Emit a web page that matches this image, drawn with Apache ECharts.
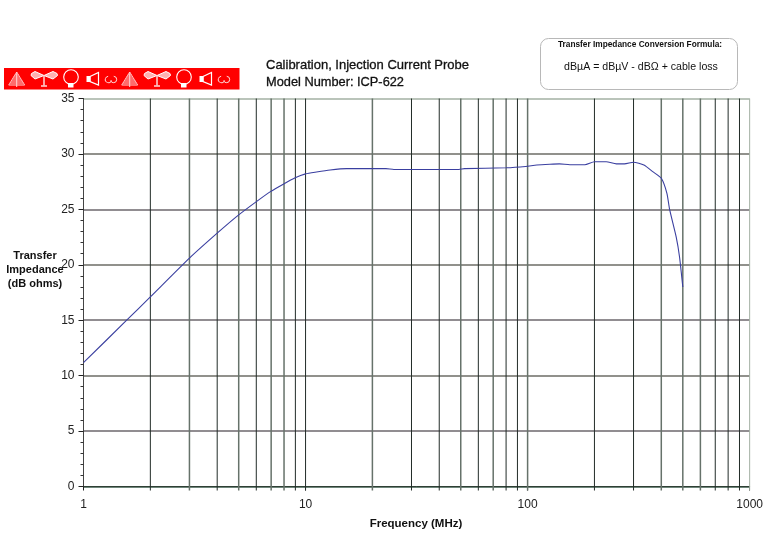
<!DOCTYPE html>
<html>
<head>
<meta charset="utf-8">
<style>html,body{margin:0;padding:0;background:#fff}#chart{width:766px;height:538px}</style>
<script src="https://cdn.jsdelivr.net/npm/echarts@6/dist/echarts.min.js"></script>
</head>
<body>
<div id="chart"></div>
<script>
var freqs = [1, 1.565, 2, 3, 4, 5, 6.2, 6.95, 7.9, 8.98, 10, 11.2, 12.9, 15.3, 23, 25, 49, 52, 80, 98, 110, 126, 139, 155, 181, 200, 226, 251, 273, 300, 334, 366, 400, 424, 436, 467, 483, 500];
var impedance = [11.17, 15, 17.1, 20.6, 22.85, 24.5, 25.9, 26.6, 27.25, 27.85, 28.2, 28.37, 28.55, 28.67, 28.67, 28.6, 28.6, 28.67, 28.75, 28.87, 29.0, 29.07, 29.1, 29.03, 29.03, 29.3, 29.3, 29.1, 29.1, 29.25, 29.0, 28.4, 27.8, 26.45, 25.0, 22.5, 20.75, 18.0];
var darkGrid = [2, 4, 6, 9, 10, 30, 40, 60, 80, 90, 200, 300, 700, 800, 900];
var softGrid = [3, 5, 7, 8, 20, 50, 70, 100, 400, 500, 600];
var edgeGrid = [1000];

var myChart = echarts.init(document.getElementById('chart'));

var font = '"Liberation Sans", Arial, sans-serif';

function makeGridSeries(list, color, width) {
    return {
        type: 'custom',
        silent: true,
        z: 1,
        clip: false,
        data: list.map(function (f) { return [f]; }),
        encode: {x: 0},
        renderItem: function (params, api) {
            var top = api.coord([api.value(0), 35]);
            var bottom = api.coord([api.value(0), 0]);
            return {
                type: 'line',
                shape: {x1: top[0], y1: top[1], x2: bottom[0], y2: bottom[1] + 4},
                style: {stroke: color, lineWidth: width}
            };
        }
    };
}

function line(x1, y1, x2, y2, w) {
    return {type: 'line', shape: {x1: x1, y1: y1, x2: x2, y2: y2}, style: {stroke: '#ffd8d8', lineWidth: w || 1}};
}

function bannerIcons(dx) {
    var items = [];
    // tree antenna
    for (var y = 75; y <= 85; y += 2) {
        var hw = (y - 72) * 8 / 13;
        items.push(line(16.7 + dx - hw, y, 16.7 + dx + hw, y));
    }
    items.push(line(16.7 + dx, 72, 8.7 + dx, 85, 0.8));
    items.push(line(16.7 + dx, 72, 24.7 + dx, 85, 0.8));
    items.push(line(16.7 + dx, 72, 16.7 + dx, 87));
    // biconical
    items.push({type: 'polygon', shape: {points: [[44 + dx, 75.5], [35 + dx, 71.5], [31.5 + dx, 73.5], [31 + dx, 75.5], [35 + dx, 79]]}, style: {fill: '#ffb0b0', stroke: '#fff', lineWidth: 1}});
    items.push({type: 'polygon', shape: {points: [[44 + dx, 75.5], [53 + dx, 71.5], [57 + dx, 73.5], [57.5 + dx, 75.5], [53 + dx, 79]]}, style: {fill: '#ffb0b0', stroke: '#fff', lineWidth: 1}});
    items.push(line(44 + dx, 75, 44 + dx, 85.5, 1.5));
    items.push(line(41 + dx, 86, 47 + dx, 86, 1.5));
    // loop
    items.push({type: 'circle', shape: {cx: 71 + dx, cy: 77, r: 7.3}, style: {fill: 'none', stroke: '#fff', lineWidth: 1.1}});
    items.push({type: 'rect', shape: {x: 68 + dx, y: 83, width: 5.5, height: 4.5}, style: {fill: '#fff'}});
    // horn
    items.push({type: 'rect', shape: {x: 86.5 + dx, y: 76, width: 4, height: 6}, style: {fill: '#fff'}});
    items.push({type: 'polygon', shape: {points: [[90 + dx, 76.5], [98.5 + dx, 72.5], [98.5 + dx, 85], [90 + dx, 81.5]]}, style: {fill: 'none', stroke: '#fff', lineWidth: 1.2}});
    // small probe
    items.push({type: 'arc', shape: {cx: 108.5 + dx, cy: 79.5, r: 3.2, startAngle: 0.3, endAngle: 4.6}, style: {fill: 'none', stroke: '#ffdcdc', lineWidth: 1}});
    items.push({type: 'arc', shape: {cx: 113.5 + dx, cy: 79.5, r: 3.2, startAngle: -1.5, endAngle: 2.8}, style: {fill: 'none', stroke: '#ffdcdc', lineWidth: 1}});
    return items;
}

function plainText(x, y, str, size, weight, align, heavy) {
    var style = {text: str, fill: '#111', font: (weight || 'normal') + ' ' + size + 'px ' + font, textAlign: align || 'left', textVerticalAlign: 'middle'};
    if (heavy) {
        style.stroke = '#111';
        style.lineWidth = heavy;
    }
    return {type: 'text', x: x, y: y, style: style};
}

var graphics = [
    {type: 'rect', shape: {x: 4, y: 68, width: 235.5, height: 21.5}, style: {fill: '#ff0000'}}
].concat(bannerIcons(0), bannerIcons(113), [
    {type: 'rect', shape: {x: 540.5, y: 38.5, width: 197, height: 51, r: 8}, style: {fill: '#fff', stroke: '#b8b8b8', lineWidth: 1}},
    plainText(640, 44.5, 'Transfer Impedance Conversion Formula:', 8.3, 'bold', 'center'),
    plainText(641, 67, 'dB\u00b5A = dB\u00b5V - dB\u03a9 + cable loss', 10.6, 'normal', 'center'),
    plainText(266, 65.5, 'Calibration, Injection Current Probe', 13, 'normal', 'left', 0.3),
    plainText(266, 82.5, 'Model Number: ICP-622', 12.8, 'normal', 'left', 0.3),
    plainText(35, 256, 'Transfer', 11, 'bold', 'center'),
    plainText(35, 270, 'Impedance', 11, 'bold', 'center'),
    plainText(35, 284, '(dB ohms)', 11, 'bold', 'center'),
    plainText(416, 524, 'Frequency (MHz)', 11.5, 'bold', 'center')
]);

var option = {
    animation: false,
    backgroundColor: '#fff',
    textStyle: {fontFamily: font},
    grid: {left: 83.5, right: 15.5, top: 98.5, bottom: 51.5},
    xAxis: {
        type: 'log',
        logBase: 10,
        min: 1,
        max: 1000,
        axisLine: {onZero: false, lineStyle: {color: '#2f3f35', width: 1}},
        axisTick: {show: true, length: 4, lineStyle: {color: '#222'}},
        axisLabel: {
            color: '#222',
            fontSize: 12,
            margin: 12,
            fontFamily: font,
            formatter: function (v) { return String(v); }
        },
        splitLine: {show: false},
        minorTick: {show: false},
        minorSplitLine: {show: false}
    },
    yAxis: {
        type: 'value',
        min: 0,
        max: 35,
        interval: 5,
        axisLine: {show: true, lineStyle: {color: '#444', width: 1}},
        axisTick: {show: true, length: 5, lineStyle: {color: '#222'}},
        minorTick: {show: true, splitNumber: 5, length: 3, lineStyle: {color: '#333'}},
        axisLabel: {color: '#222', fontSize: 12, margin: 9, fontFamily: font},
        splitLine: {show: true, lineStyle: {color: ['#3f5f4f', '#6d676d', '#6d6d66', '#6d676d', '#6d6d66', '#6d676d', '#6d6d66', '#a3b0a3'], width: 1.6}}
    },
    series: [
        makeGridSeries(edgeGrid, '#a3b0a3', 1),
        makeGridSeries(softGrid, '#66726a', 1.5),
        makeGridSeries(darkGrid, '#222c28', 1),
        {
            type: 'line',
            name: 'Transfer Impedance',
            z: 3,
            data: freqs.map(function (f, i) { return [f, impedance[i]]; }),
            showSymbol: false,
            smooth: 0.2,
            lineStyle: {color: '#3a3fa0', width: 1.1}
        }
    ],
    graphic: {elements: graphics}
};

myChart.setOption(option);
</script>
</body>
</html>
